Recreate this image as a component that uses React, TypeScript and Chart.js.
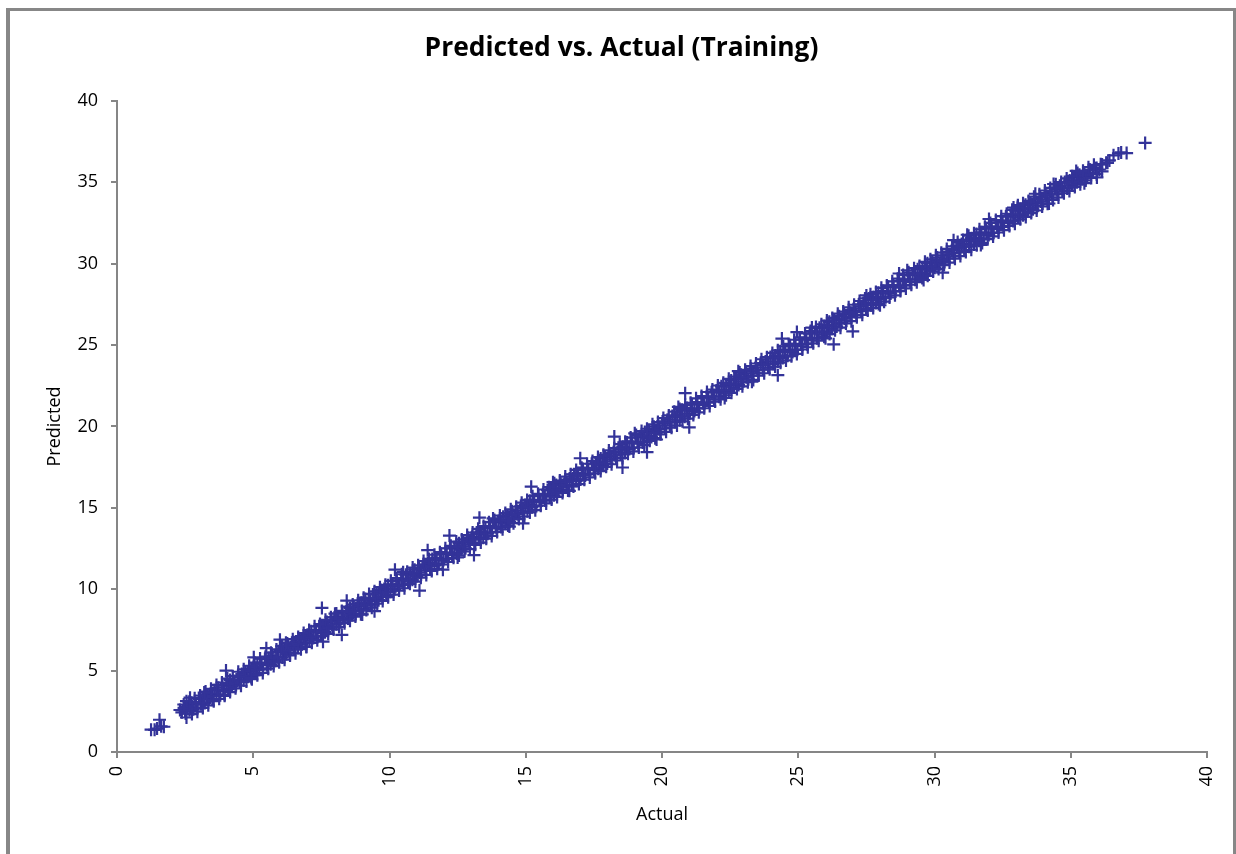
import React, { useEffect, useRef } from "react";
import { Chart, registerables } from "chart.js";

Chart.register(...registerables);

// ---- Axis tick labels ----
const xTickValues = [0, 5, 10, 15, 20, 25, 30, 35, 40];
const yTickValues = [0, 5, 10, 15, 20, 25, 30, 35, 40];

// ---- Data: [Actual, Predicted] ----
const lowestPoints: [number, number][] = [
  [1.25, 1.37], [1.38, 1.36], [1.47, 1.44], [1.56, 1.98], [1.62, 1.58], [1.72, 1.55],
];

const lowBand: [number, number][] = [
  [2.31, 2.58], [2.38, 2.44], [2.46, 2.71], [2.52, 2.36], [2.6, 2.83], [2.66, 2.57], [2.73, 3.02], [2.8, 2.62],
  [2.87, 2.95], [2.95, 2.73], [3.01, 3.24], [3.08, 2.94], [3.16, 3.35], [3.22, 3.01], [3.3, 3.52], [3.37, 3.26],
  [3.44, 3.6], [3.5, 3.21], [3.58, 3.79], [3.65, 3.52], [3.72, 3.95], [3.79, 3.48], [3.86, 4.07], [3.93, 3.74],
  [4.01, 4.19], [4.08, 3.86], [4.15, 4.43], [4.22, 4.04], [4.3, 4.35], [4.37, 4.12], [4.44, 4.68], [4.51, 4.33],
  [4.58, 4.79], [4.65, 4.41], [4.72, 4.9], [4.8, 4.62], [4.87, 5.13], [4.93, 4.68], [5.01, 5.22], [5.08, 4.83],
  [5.15, 5.41], [5.22, 5.06], [5.29, 5.5], [5.36, 5.12], [5.43, 5.71], [5.5, 5.33], [5.57, 5.78], [5.64, 5.39],
  [5.71, 5.92], [5.79, 5.6], [5.86, 6.15], [5.92, 5.7], [6.0, 6.21], [6.07, 5.81], [6.14, 6.38], [6.21, 6.02],
  [6.28, 6.5], [6.35, 6.09], [6.42, 6.71], [6.5, 6.31], [6.57, 6.79], [6.64, 6.4], [6.71, 6.93], [6.78, 6.6],
  [6.85, 7.14], [6.92, 6.69], [6.99, 7.2], [7.06, 6.84], [7.13, 7.42], [7.2, 7.0], [7.28, 7.51], [7.35, 7.1],
  [7.42, 7.73], [7.49, 7.29], [7.56, 7.77], [7.63, 7.36], [7.7, 7.98], [7.77, 7.58], [7.84, 8.05], [7.91, 7.66],
  [7.98, 8.27], [8.05, 7.85], [8.12, 8.33], [8.2, 7.97], [8.27, 8.56], [8.34, 8.12], [8.41, 8.62], [8.48, 8.2],
  [8.55, 8.84], [8.62, 8.42], [8.69, 8.9], [8.76, 8.5], [8.83, 9.11], [8.9, 8.71], [8.97, 9.17], [9.04, 8.78],
  [9.11, 9.4], [9.18, 8.99], [9.25, 9.46], [9.32, 9.06], [9.39, 9.68], [9.46, 9.28], [9.53, 9.74], [9.6, 9.33],
  [9.67, 9.96], [9.74, 9.55], [9.81, 10.02], [9.88, 9.63],
];

const midBand: [number, number][] = [
  [9.95, 10.24], [10.03, 9.85], [10.11, 10.3], [10.19, 10.01], [10.27, 10.55], [10.35, 10.16], [10.43, 10.62], [10.51, 10.27],
  [10.6, 10.89], [10.68, 10.47], [10.76, 10.95], [10.84, 10.58], [10.92, 11.2], [11.0, 10.81], [11.08, 11.27], [11.16, 10.9],
  [11.25, 11.53], [11.33, 11.14], [11.41, 11.6], [11.49, 11.22], [11.57, 11.86], [11.65, 11.46], [11.73, 11.93], [11.81, 11.55],
  [11.9, 12.18], [11.98, 11.79], [12.06, 12.25], [12.14, 11.87], [12.22, 12.51], [12.3, 12.11], [12.38, 12.58], [12.46, 12.19],
  [12.55, 12.83], [12.63, 12.44], [12.71, 12.9], [12.79, 12.52], [12.87, 13.16], [12.95, 12.76], [13.03, 13.22], [13.11, 12.84],
  [13.2, 13.48], [13.28, 13.09], [13.36, 13.55], [13.44, 13.17], [13.52, 13.81], [13.6, 13.41], [13.68, 13.88], [13.76, 13.5],
  [13.85, 14.13], [13.93, 13.74], [14.01, 14.2], [14.09, 13.82], [14.17, 14.46], [14.25, 14.06], [14.33, 14.52], [14.41, 14.14],
  [14.5, 14.79], [14.58, 14.39], [14.66, 14.85], [14.74, 14.47], [14.82, 15.11], [14.9, 14.71], [14.98, 15.18], [15.06, 14.79],
  [15.15, 15.44], [15.23, 15.04], [15.31, 15.5], [15.39, 15.12], [15.47, 15.76], [15.55, 15.36], [15.63, 15.83], [15.71, 15.45],
  [15.8, 16.09], [15.88, 15.69], [15.96, 16.15], [16.04, 15.77], [16.12, 16.41], [16.2, 16.01], [16.28, 16.48], [16.36, 16.1],
  [16.45, 16.74], [16.53, 16.34], [16.61, 16.8], [16.69, 16.42], [16.77, 17.06], [16.85, 16.66], [16.93, 17.13], [17.01, 16.75],
  [17.1, 17.39], [17.18, 16.99], [17.26, 17.45], [17.34, 17.07], [17.42, 17.71], [17.5, 17.31], [17.58, 17.78], [17.66, 17.4],
  [17.75, 18.04], [17.83, 17.64], [17.91, 18.1], [17.99, 17.72], [18.07, 18.36], [18.15, 17.96], [18.23, 18.43], [18.31, 18.05],
  [18.4, 18.69], [18.48, 18.29], [18.56, 18.75], [18.64, 18.37], [18.72, 19.01], [18.8, 18.61], [18.88, 19.08], [18.96, 18.7],
  [19.05, 19.34], [19.13, 18.94], [19.21, 19.4], [19.29, 19.02], [19.37, 19.66], [19.45, 19.26], [19.53, 19.73], [19.61, 19.35],
  [19.7, 19.99], [19.78, 19.59], [19.86, 20.05], [19.94, 19.67],
];

const highBand: [number, number][] = [
  [20.02, 20.31], [20.11, 19.88], [20.2, 20.42], [20.29, 20.06], [20.38, 20.64], [20.47, 20.27], [20.56, 20.75], [20.65, 20.38],
  [20.74, 21.03], [20.83, 20.6], [20.92, 21.14], [21.01, 20.79], [21.1, 21.36], [21.19, 20.95], [21.28, 21.5], [21.37, 21.11],
  [21.46, 21.77], [21.55, 21.32], [21.64, 21.85], [21.73, 21.47], [21.82, 22.1], [21.91, 21.66], [22.0, 22.21], [22.09, 21.83],
  [22.18, 22.47], [22.27, 22.05], [22.36, 22.56], [22.45, 22.19], [22.54, 22.83], [22.63, 22.4], [22.72, 22.92], [22.81, 22.55],
  [22.9, 23.18], [22.99, 22.78], [23.08, 23.27], [23.17, 22.9], [23.26, 23.55], [23.35, 23.13], [23.44, 23.64], [23.53, 23.27],
  [23.62, 23.9], [23.71, 23.49], [23.8, 24.0], [23.89, 23.62], [23.98, 24.27], [24.07, 23.85], [24.16, 24.36], [24.25, 23.99],
  [24.34, 24.62], [24.43, 24.21], [24.52, 24.72], [24.61, 24.34], [24.7, 24.99], [24.79, 24.57], [24.88, 25.08], [24.97, 24.71],
  [25.06, 25.34], [25.15, 24.93], [25.24, 25.44], [25.33, 25.06], [25.42, 25.71], [25.51, 25.29], [25.6, 25.8], [25.69, 25.42],
  [25.78, 26.06], [25.87, 25.65], [25.96, 26.16], [26.05, 25.79], [26.14, 26.43], [26.23, 26.01], [26.32, 26.52], [26.41, 26.14],
  [26.5, 26.78], [26.59, 26.37], [26.68, 26.88], [26.77, 26.5], [26.86, 27.15], [26.95, 26.73], [27.04, 27.24], [27.13, 26.86],
  [27.22, 27.5], [27.31, 27.09], [27.4, 27.6], [27.49, 27.22], [27.58, 27.87], [27.67, 27.45], [27.76, 27.96], [27.85, 27.58],
  [27.94, 28.22], [28.03, 27.81], [28.12, 28.32], [28.21, 27.94], [28.3, 28.59], [28.39, 28.17], [28.48, 28.68], [28.57, 28.3],
  [28.66, 28.94], [28.75, 28.53], [28.84, 29.04], [28.93, 28.66], [29.02, 29.31], [29.11, 28.89], [29.2, 29.4], [29.29, 29.02],
  [29.38, 29.66], [29.47, 29.25], [29.56, 29.76], [29.65, 29.38], [29.74, 30.03], [29.83, 29.61], [29.92, 30.12],
];

const topBand: [number, number][] = [
  [30.01, 29.75], [30.1, 30.38], [30.19, 29.97], [30.28, 30.49], [30.37, 30.1], [30.46, 30.74], [30.55, 30.33], [30.64, 30.85],
  [30.73, 30.46], [30.82, 31.1], [30.91, 30.69], [31.0, 31.21], [31.09, 30.82], [31.18, 31.46], [31.27, 31.05], [31.36, 31.57],
  [31.45, 31.18], [31.54, 31.82], [31.63, 31.41], [31.72, 31.93], [31.81, 31.54], [31.9, 32.18], [31.99, 31.77], [32.08, 32.29],
  [32.17, 31.9], [32.26, 32.54], [32.35, 32.13], [32.44, 32.65], [32.53, 32.26], [32.62, 32.9], [32.71, 32.49], [32.8, 33.01],
  [32.89, 32.62], [32.98, 33.26], [33.07, 32.85], [33.16, 33.37], [33.25, 32.98], [33.34, 33.62], [33.43, 33.21], [33.52, 33.73],
  [33.61, 33.34], [33.7, 33.98], [33.79, 33.57], [33.88, 34.09], [33.97, 33.7], [34.06, 34.34], [34.15, 33.93], [34.24, 34.45],
  [34.33, 34.06], [34.42, 34.68], [34.51, 34.27], [34.6, 34.79], [34.69, 34.44], [34.78, 35.02], [34.87, 34.62], [34.96, 35.12],
  [35.05, 34.83], [35.14, 35.3], [35.23, 35.0], [35.32, 35.46], [35.41, 35.21], [35.5, 35.58], [35.6, 35.4], [35.7, 35.77],
  [35.82, 35.6], [35.95, 35.88], [36.05, 35.79], [36.15, 36.1], [36.3, 36.21], [36.42, 36.35], [36.57, 36.66], [36.75, 36.78],
  [36.85, 36.84], [37.05, 36.8], [37.73, 37.42],
];

const centerLine: [number, number][] = [
  [2.5, 2.55], [2.7, 2.66], [2.9, 2.97], [3.1, 3.04], [3.3, 3.38], [3.5, 3.45], [3.7, 3.78], [3.9, 3.84],
  [4.1, 4.17], [4.3, 4.24], [4.5, 4.58], [4.7, 4.63], [4.9, 4.97], [5.1, 5.05], [5.3, 5.38], [5.5, 5.44],
  [5.7, 5.77], [5.9, 5.85], [6.1, 6.18], [6.3, 6.23], [6.5, 6.57], [6.7, 6.65], [6.9, 6.98], [7.1, 7.04],
  [7.3, 7.37], [7.5, 7.44], [7.7, 7.78], [7.9, 7.83], [8.1, 8.17], [8.3, 8.25], [8.5, 8.58], [8.7, 8.64],
  [8.9, 8.97], [9.1, 9.03], [9.3, 9.38], [9.5, 9.45], [9.7, 9.77], [9.9, 9.84], [10.1, 10.18], [10.3, 10.24],
  [10.5, 10.57], [10.7, 10.65], [10.9, 10.98], [11.1, 11.03], [11.3, 11.37], [11.5, 11.44], [11.7, 11.78], [11.9, 11.85],
  [12.1, 12.17], [12.3, 12.23], [12.5, 12.58], [12.7, 12.64], [12.9, 12.97], [13.1, 13.05], [13.3, 13.38], [13.5, 13.43],
  [13.7, 13.77], [13.9, 13.84], [14.1, 14.18], [14.3, 14.25], [14.5, 14.57], [14.7, 14.63], [14.9, 14.98], [15.1, 15.04],
  [15.3, 15.37], [15.5, 15.45], [15.7, 15.78], [15.9, 15.83], [16.1, 16.17], [16.3, 16.24], [16.5, 16.58], [16.7, 16.65],
  [16.9, 16.97], [17.1, 17.03], [17.3, 17.38], [17.5, 17.44], [17.7, 17.77], [17.9, 17.85], [18.1, 18.18], [18.3, 18.23],
  [18.5, 18.57], [18.7, 18.64], [18.9, 18.98], [19.1, 19.05], [19.3, 19.37], [19.5, 19.43], [19.7, 19.78], [19.9, 19.84],
  [20.1, 20.17], [20.3, 20.25], [20.5, 20.58], [20.7, 20.63], [20.9, 20.97], [21.1, 21.04], [21.3, 21.38], [21.5, 21.45],
  [21.7, 21.77], [21.9, 21.83], [22.1, 22.18], [22.3, 22.24], [22.5, 22.57], [22.7, 22.65], [22.9, 22.98], [23.1, 23.03],
  [23.3, 23.37], [23.5, 23.44], [23.7, 23.78], [23.9, 23.85], [24.1, 24.17], [24.3, 24.23], [24.5, 24.58], [24.7, 24.64],
  [24.9, 24.97], [25.1, 25.05], [25.3, 25.38], [25.5, 25.43], [25.7, 25.77], [25.9, 25.84], [26.1, 26.18], [26.3, 26.25],
  [26.5, 26.57], [26.7, 26.63], [26.9, 26.98], [27.1, 27.04], [27.3, 27.37], [27.5, 27.45], [27.7, 27.78], [27.9, 27.83],
  [28.1, 28.17], [28.3, 28.24], [28.5, 28.58], [28.7, 28.65], [28.9, 28.97], [29.1, 29.03], [29.3, 29.38], [29.5, 29.44],
  [29.7, 29.77], [29.9, 29.85], [30.1, 30.18], [30.3, 30.23], [30.5, 30.57], [30.7, 30.64], [30.9, 30.98], [31.1, 31.05],
  [31.3, 31.37], [31.5, 31.43], [31.7, 31.78], [31.9, 31.84], [32.1, 32.17], [32.3, 32.25], [32.5, 32.58], [32.7, 32.63],
  [32.9, 32.97], [33.1, 33.04], [33.3, 33.38], [33.5, 33.45], [33.7, 33.77], [33.9, 33.83], [34.1, 34.18], [34.3, 34.24],
  [34.5, 34.57], [34.7, 34.65], [34.9, 34.98], [35.1, 35.03], [35.3, 35.37], [35.5, 35.44], [35.7, 35.76], [35.9, 35.86],
  [36.1, 36.12],
];

const upperEdge: [number, number][] = [
  [2.45, 2.92], [2.65, 3.08], [2.85, 3.31], [3.05, 3.47], [3.25, 3.71], [3.45, 3.88], [3.65, 4.12], [3.85, 4.27],
  [4.05, 4.51], [4.25, 4.66], [4.45, 4.93], [4.65, 5.08], [4.85, 5.3], [5.05, 5.49], [5.25, 5.74], [5.45, 5.86],
  [5.65, 6.1], [5.85, 6.3], [6.05, 6.52], [6.25, 6.66], [6.45, 6.93], [6.65, 7.07], [6.85, 7.31], [7.05, 7.49],
  [7.25, 7.72], [7.45, 7.86], [7.65, 8.12], [7.85, 8.28], [8.05, 8.51], [8.25, 8.67], [8.45, 8.93], [8.65, 9.06],
  [8.85, 9.32], [9.05, 9.48], [9.25, 9.71], [9.45, 9.87], [9.65, 10.13], [9.85, 10.27], [10.05, 10.52], [10.25, 10.68],
  [10.45, 10.92], [10.65, 11.07], [10.85, 11.33], [11.05, 11.47], [11.25, 11.73], [11.45, 11.86], [11.65, 12.12], [11.85, 12.28],
  [12.05, 12.52], [12.25, 12.67], [12.45, 12.93], [12.65, 13.06], [12.85, 13.33], [13.05, 13.48], [13.25, 13.71], [13.45, 13.88],
  [13.65, 14.12], [13.85, 14.26], [14.05, 14.53], [14.25, 14.68], [14.45, 14.91], [14.65, 15.07], [14.85, 15.32], [15.05, 15.49],
  [15.25, 15.72], [15.45, 15.86], [15.65, 16.13], [15.85, 16.27], [16.05, 16.51], [16.25, 16.68], [16.45, 16.92], [16.65, 17.06],
  [16.85, 17.33], [17.05, 17.47], [17.25, 17.71], [17.45, 17.88], [17.65, 18.12], [17.85, 18.26], [18.05, 18.53], [18.25, 18.67],
  [18.45, 18.92], [18.65, 19.07], [18.85, 19.32], [19.05, 19.48], [19.25, 19.72], [19.45, 19.86], [19.65, 20.13], [19.85, 20.27],
  [20.05, 20.52], [20.25, 20.68], [20.45, 20.91], [20.65, 21.07], [20.85, 21.33], [21.05, 21.46], [21.25, 21.73], [21.45, 21.87],
  [21.65, 22.12], [21.85, 22.27], [22.05, 22.52], [22.25, 22.68], [22.45, 22.93], [22.65, 23.06], [22.85, 23.32], [23.05, 23.48],
  [23.25, 23.71], [23.45, 23.87], [23.65, 24.13], [23.85, 24.26], [24.05, 24.52], [24.25, 24.68], [24.45, 24.92], [24.65, 25.07],
  [24.85, 25.33], [25.05, 25.47], [25.25, 25.72], [25.45, 25.86], [25.65, 26.12], [25.85, 26.28], [26.05, 26.51], [26.25, 26.67],
  [26.45, 26.93], [26.65, 27.06], [26.85, 27.32], [27.05, 27.48], [27.25, 27.71], [27.45, 27.87], [27.65, 28.13], [27.85, 28.26],
  [28.05, 28.52], [28.25, 28.67], [28.45, 28.92], [28.65, 29.08], [28.85, 29.31], [29.05, 29.47], [29.25, 29.73], [29.45, 29.86],
  [29.65, 30.12], [29.85, 30.27], [30.05, 30.52], [30.25, 30.68], [30.45, 30.91], [30.65, 31.07], [30.85, 31.33], [31.05, 31.46],
  [31.25, 31.72], [31.45, 31.88], [31.65, 32.12], [31.85, 32.27], [32.05, 32.51], [32.25, 32.68], [32.45, 32.92], [32.65, 33.07],
  [32.85, 33.31], [33.05, 33.48], [33.25, 33.71], [33.45, 33.86], [33.65, 34.12], [33.85, 34.27], [34.05, 34.5], [34.25, 34.66],
  [34.45, 34.88], [34.65, 35.02], [34.85, 35.24], [35.05, 35.38], [35.25, 35.57], [35.45, 35.71], [35.65, 35.93], [35.85, 36.08],
];

const lowerEdge: [number, number][] = [
  [2.55, 2.12], [2.75, 2.33], [2.95, 2.48], [3.15, 2.71], [3.35, 2.87], [3.55, 3.12], [3.75, 3.27], [3.95, 3.52],
  [4.15, 3.68], [4.35, 3.91], [4.55, 4.07], [4.75, 4.33], [4.95, 4.47], [5.15, 4.72], [5.35, 4.86], [5.55, 5.12],
  [5.75, 5.28], [5.95, 5.51], [6.15, 5.67], [6.35, 5.93], [6.55, 6.06], [6.75, 6.32], [6.95, 6.48], [7.15, 6.71],
  [7.35, 6.87], [7.55, 7.12], [7.75, 7.26], [7.95, 7.53], [8.15, 7.68], [8.35, 7.91], [8.55, 8.07], [8.75, 8.32],
  [8.95, 8.46], [9.15, 8.73], [9.35, 8.87], [9.55, 9.12], [9.75, 9.28], [9.95, 9.51], [10.15, 9.67], [10.35, 9.92],
  [10.55, 10.06], [10.75, 10.33], [10.95, 10.47], [11.15, 10.71], [11.35, 10.88], [11.55, 11.12], [11.75, 11.26], [11.95, 11.52],
  [12.15, 11.68], [12.35, 11.93], [12.55, 12.07], [12.75, 12.32], [12.95, 12.46], [13.15, 12.73], [13.35, 12.87], [13.55, 13.11],
  [13.75, 13.27], [13.95, 13.52], [14.15, 13.68], [14.35, 13.92], [14.55, 14.06], [14.75, 14.31], [14.95, 14.47], [15.15, 14.72],
  [15.35, 14.86], [15.55, 15.13], [15.75, 15.27], [15.95, 15.51], [16.15, 15.67], [16.35, 15.92], [16.55, 16.07], [16.75, 16.32],
  [16.95, 16.46], [17.15, 16.73], [17.35, 16.87], [17.55, 17.12], [17.75, 17.26], [17.95, 17.52], [18.15, 17.68], [18.35, 17.91],
  [18.55, 18.07], [18.75, 18.33], [18.95, 18.47], [19.15, 18.71], [19.35, 18.86], [19.55, 19.12], [19.75, 19.28], [19.95, 19.52],
  [20.15, 19.67], [20.35, 19.93], [20.55, 20.06], [20.75, 20.32], [20.95, 20.48], [21.15, 20.71], [21.35, 20.87], [21.55, 21.12],
  [21.75, 21.26], [21.95, 21.53], [22.15, 21.67], [22.35, 21.92], [22.55, 22.07], [22.75, 22.31], [22.95, 22.47], [23.15, 22.72],
  [23.35, 22.86], [23.55, 23.13], [23.75, 23.27], [23.95, 23.51], [24.15, 23.68], [24.35, 23.92], [24.55, 24.06], [24.75, 24.32],
  [24.95, 24.46], [25.15, 24.73], [25.35, 24.87], [25.55, 25.11], [25.75, 25.27], [25.95, 25.52], [26.15, 25.68], [26.35, 25.91],
  [26.55, 26.07], [26.75, 26.33], [26.95, 26.47], [27.15, 26.71], [27.35, 26.86], [27.55, 27.12], [27.75, 27.28], [27.95, 27.52],
  [28.15, 27.67], [28.35, 27.93], [28.55, 28.06], [28.75, 28.32], [28.95, 28.48], [29.15, 28.71], [29.35, 28.87], [29.55, 29.12],
  [29.75, 29.26], [29.95, 29.53], [30.15, 29.67], [30.35, 29.92], [30.55, 30.07], [30.75, 30.31], [30.95, 30.47], [31.15, 30.72],
  [31.35, 30.86], [31.55, 31.13], [31.75, 31.27], [31.95, 31.51], [32.15, 31.68], [32.35, 31.92], [32.55, 32.06], [32.75, 32.32],
  [32.95, 32.46], [33.15, 32.73], [33.35, 32.87], [33.55, 33.11], [33.75, 33.27], [33.95, 33.52], [34.15, 33.68], [34.35, 33.92],
  [34.55, 34.07], [34.75, 34.33], [34.95, 34.47], [35.15, 34.72], [35.35, 34.88], [35.55, 35.12], [35.75, 35.27], [35.95, 35.5],
  [36.15, 35.68],
];

const scatteredPoints: [number, number][] = [
  [2.55, 3.12], [2.68, 3.34], [4.0, 5.0], [5.02, 5.82], [5.48, 6.38], [5.98, 6.9], [4.93, 4.55], [7.56, 6.78],
  [8.25, 7.2], [7.52, 8.85], [8.43, 9.3], [10.2, 11.2], [11.1, 9.92], [9.45, 8.65], [11.4, 12.4], [12.2, 13.3],
  [13.1, 12.1], [11.96, 11.2], [13.3, 14.4], [15.2, 16.3], [14.9, 14.05], [17.0, 18.05], [18.25, 19.38], [18.55, 17.48],
  [20.85, 22.05], [21.0, 19.95], [19.45, 18.42], [24.25, 23.15], [24.4, 25.4], [24.95, 25.8], [26.3, 25.05], [27.0, 25.85],
  [28.7, 29.4], [30.7, 31.45], [30.3, 29.45], [33.06, 33.6], [32.0, 32.75], [34.37, 34.9], [33.7, 34.3], [36.35, 36.2],
  [35.96, 35.3], [3.2, 3.65], [3.95, 3.45], [6.2, 6.72], [6.95, 6.45], [8.0, 8.5], [9.0, 8.45], [10.5, 11.05],
  [12.5, 11.95], [13.8, 14.35], [14.4, 13.85], [16.0, 16.58], [16.6, 16.05], [19.0, 19.58], [19.8, 19.2], [20.6, 21.2],
  [22.3, 21.75], [22.8, 23.4], [23.3, 22.75], [25.5, 26.08], [26.0, 25.42], [27.5, 28.05], [28.0, 27.45], [29.0, 29.6],
  [29.6, 29.0], [31.2, 31.78], [31.7, 31.15], [32.9, 33.45], [34.2, 33.7], [35.2, 35.7], [35.5, 34.95],
];

const FONT = "'Open Sans', 'Liberation Sans', sans-serif";
const MARKER = "#333399";
const AXIS_GRAY = "#868686";

export default function App() {
  const canvasRef = useRef<HTMLCanvasElement | null>(null);

  useEffect(() => {
    document.documentElement.style.overflow = "hidden";
    const canvas = canvasRef.current;
    if (!canvas) return;
    const points = [
      ...lowestPoints,
      ...lowBand,
      ...midBand,
      ...highBand,
      ...topBand,
      ...centerLine,
      ...upperEdge,
      ...lowerEdge,
      ...scatteredPoints,
    ].map(([x, y]) => ({ x, y }));

    const chart = new Chart(canvas, {
      type: "scatter",
      data: {
        datasets: [
          {
            label: "Predicted",
            data: points,
            pointStyle: "cross",
            pointRadius: 6.5,
            pointBorderWidth: 2.2,
            borderColor: MARKER,
            backgroundColor: MARKER,
            pointHoverRadius: 6.5,
          },
        ],
      },
      options: {
        animation: false,
        responsive: false,
        devicePixelRatio: 1,
        layout: { padding: { left: 26, right: 26, top: 0, bottom: 0 } },
        plugins: {
          legend: { display: false },
          tooltip: { enabled: false },
          title: {
            display: true,
            text: "Predicted vs. Actual (Training)",
            color: "#000",
            font: { family: FONT, size: 26.4, weight: "bold" },
            padding: { top: 22.1, bottom: 36.2 },
          },
        },
        scales: {
          x: {
            type: "linear",
            min: 0,
            max: 40,
            afterBuildTicks: (axis: any) => {
              axis.ticks = xTickValues.map((v) => ({ value: v }));
            },
            afterFit: (axis: any) => {
              axis.height = 102;
              axis.paddingLeft = 0;
              axis.paddingRight = 0;
            },
            border: { display: true, color: AXIS_GRAY, width: 2 },
            grid: {
              drawOnChartArea: false,
              drawTicks: true,
              tickLength: 6,
              color: AXIS_GRAY,
              lineWidth: 2,
            },
            ticks: {
              minRotation: 90,
              maxRotation: 90,
              padding: 8,
              color: "#000",
              font: { family: FONT, size: 18 },
            },
            title: {
              display: true,
              text: "Actual",
              color: "#000",
              font: { family: FONT, size: 18 },
              padding: { top: 0, bottom: 28.5 },
            },
          },
          y: {
            type: "linear",
            min: 0,
            max: 40,
            afterBuildTicks: (axis: any) => {
              axis.ticks = yTickValues.map((v) => ({ value: v }));
            },
            afterFit: (axis: any) => {
              axis.width = 81;
            },
            border: { display: true, color: AXIS_GRAY, width: 2 },
            grid: {
              drawOnChartArea: false,
              drawTicks: true,
              tickLength: 6,
              color: AXIS_GRAY,
              lineWidth: 2,
            },
            ticks: {
              padding: 13,
              color: "#000",
              font: { family: FONT, size: 18 },
            },
            title: {
              display: true,
              text: "Predicted",
              color: "#000",
              font: { family: FONT, size: 18 },
              padding: { top: 8.2, bottom: 0 },
            },
          },
        },
      },
    });

    return () => {
      chart.destroy();
    };
  }, []);

  return (
    <div
      style={{
        position: "fixed",
        left: 6,
        top: 8,
        width: 1223,
        height: 843,
        borderLeft: "4px solid #878787",
        borderTop: "3px solid #878787",
        borderRight: "3px solid #878787",
        background: "#fff",
      }}
    >
      <canvas ref={canvasRef} width={1223} height={843} style={{ display: "block" }} />
    </div>
  );
}
